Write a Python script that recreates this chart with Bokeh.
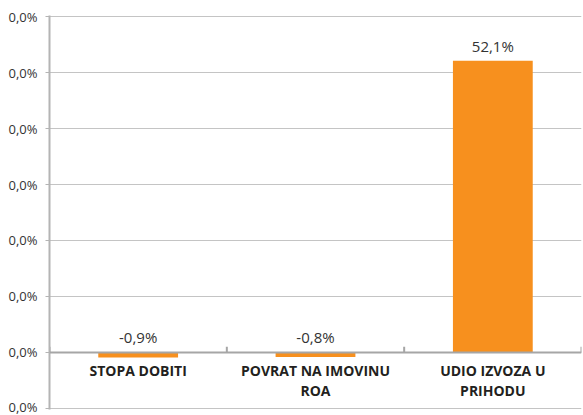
from bokeh.plotting import figure
from bokeh.models import Range1d, Span, ColumnDataSource
from bokeh.core.properties import value
from bokeh.embed import file_html
from bokeh.resources import INLINE

categories = ["STOPA DOBITI", "POVRAT NA IMOVINU\nROA", "UDIO IZVOZA U\nPRIHODU"]
values = [-0.9, -0.8, 52.1]
value_labels = ["-0,9%", "-0,8%", "52,1%"]
y_ticks = [-10, 0, 10, 20, 30, 40, 50, 60]
y_tick_labels = ["0,0%"] * len(y_ticks)

n = len(categories)
xs = [i + 0.5 for i in range(n)]

p = figure(width=583, height=415, output_backend="svg", toolbar_location=None,
           x_range=Range1d(0, n), y_range=Range1d(-10.2, 60.2),
           min_border_left=49, min_border_right=2, min_border_top=15, min_border_bottom=6)
p.outline_line_color = None
p.background_fill_color = "white"
p.border_fill_color = "white"

p.xaxis.visible = False
p.xgrid.visible = False
p.ygrid.ticker = y_ticks
p.ygrid.grid_line_color = "#c4c4c4"
p.ygrid.grid_line_width = 1

yax = p.yaxis[0]
yax.ticker = y_ticks
yax.major_label_overrides = {t: l for t, l in zip(y_ticks, y_tick_labels)}
yax.axis_line_color = "#b4b4b4"
yax.axis_line_width = 2
yax.major_tick_line_color = "#b4b4b4"
yax.major_tick_out = 4
yax.major_tick_in = 0
yax.minor_tick_line_color = None
yax.major_label_standoff = 8
yax.major_label_text_font = "Open Sans"
yax.major_label_text_font_size = "13px"
yax.major_label_text_color = "#333333"

src = ColumnDataSource(dict(x=xs, top=values, cat=categories, lab=value_labels,
                            ly=[max(v, 0) for v in values], zero=[0] * n))

p.vbar(x="x", top="top", bottom=0, width=0.45, source=src,
       fill_color="#F7901E", line_color=None)

zero = Span(location=0, dimension="width", line_color="#a6a6a6", line_width=2)
p.add_layout(zero)

bx = list(range(n + 1))
p.segment(x0=bx, x1=bx, y0=[0] * len(bx), y1=[1.0] * len(bx),
          line_color="#a6a6a6", line_width=2)

p.text(x="x", y="ly", text="lab", source=src, text_align="center",
       text_baseline="bottom", y_offset=-5, text_font=value("Open Sans"),
       text_font_size="15px", text_color="#333333")

p.text(x="x", y="zero", text="cat", source=src, text_align="center",
       text_baseline="top", y_offset=9, text_font=value("Open Sans"),
       text_font_style="bold", text_font_size="14px", text_color="#231f20",
       text_line_height=1.05)

open("out.html", "w").write(file_html(p, INLINE))
